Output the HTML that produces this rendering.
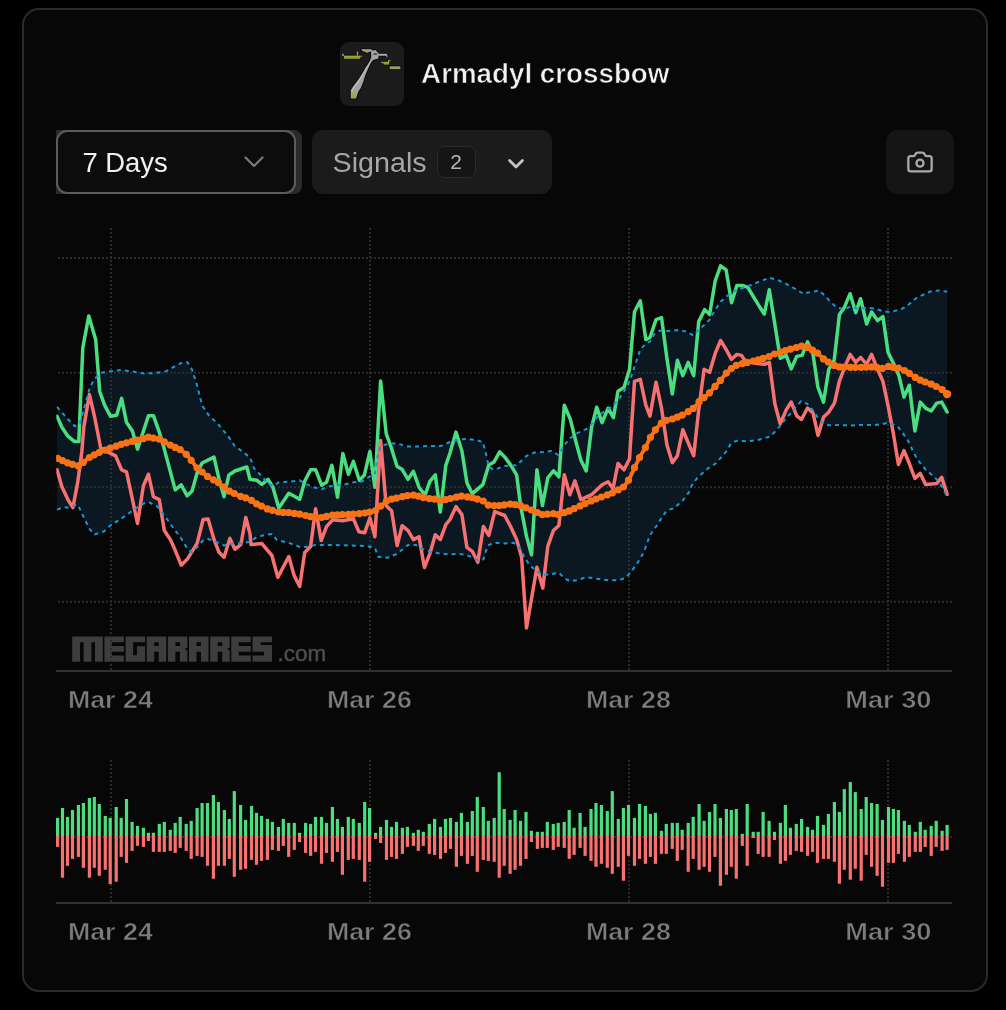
<!DOCTYPE html>
<html><head><meta charset="utf-8"><title>Armadyl crossbow</title>
<style>
html,body{margin:0;padding:0;background:#000;}
body{width:1006px;height:1010px;position:relative;overflow:hidden;font-family:"Liberation Sans", sans-serif;}
.card{position:absolute;left:22px;top:8px;width:962px;height:980px;border:2px solid #2a2a2a;border-radius:17px;background:#070707;}
.chart{position:absolute;left:0;top:0;will-change:transform;}
.iconbox{position:absolute;left:340px;top:42px;width:64px;height:64px;border-radius:9px;background:#1b1b1b;overflow:hidden;}
.xbow{position:absolute;left:0;top:0;}
.selwrap{position:absolute;left:56px;top:130px;width:246px;height:64px;background:#2a2a2a;border-radius:0 8px 8px 0;}
.sel{position:absolute;left:0;top:0;width:236px;height:60px;border:2px solid #5c5c5c;border-radius:11px;background:#0c0c0c;}
.sig{position:absolute;left:312px;top:130px;width:240px;height:64px;border-radius:11px;background:#1b1b1b;}
.badge{position:absolute;left:124.5px;top:16px;width:37px;height:29.5px;border:1.5px solid #2a2a2a;border-radius:7px;background:#151515;}
.cam{position:absolute;left:886px;top:130px;width:68px;height:64px;border-radius:12px;background:#151515;}
svg.ic{position:absolute;overflow:visible;}
</style></head><body>
<div class="card"></div>
<div class="iconbox"><svg class="xbow" width="64" height="64" viewBox="0 0 64 64">
<g style="filter:blur(0.45px)">
<g stroke="#070707" stroke-width="1.8" stroke-linejoin="round" fill="#050505">
<path d="M10.8,56.4 L10.8,48 L13,44.5 L15.9,40.7 L18.7,36.9 L21.6,32.6 L23.8,28.8 L25.6,25.6 L28.2,21.8 L30.1,18.6 L31.3,14.6 L31,8.8 L35.5,8 L38.6,11.5 L38.4,16.4 L33.1,18 L31,20.6 L29.1,24.4 L27.2,28.8 L25.3,33.2 L23.4,39.6 L20.8,46 L18.2,49.8 L16,56.4 Z"/>
<path d="M21,7.3 L31.5,7.3 L32,9.6 L23,9.6 Z"/>
<rect x="38.2" y="11.8" width="9.2" height="1.9"/>
<rect x="3.8" y="13.7" width="16.6" height="3.2"/>
<rect x="43.3" y="19.7" width="5.8" height="2.9"/>
<rect x="49.6" y="24.5" width="10.8" height="2.6"/>
</g>
<path d="M10.8,56.4 L10.8,48 L13,44.5 L15.9,40.7 L18.7,36.9 L21.6,32.6 L23.8,28.8 L25.6,25.6 L28.2,21.8 L30.1,18.6 L31.3,14.6 L31,8.8 L35.5,8 L38.6,11.5 L38.4,16.4 L33.1,18 L31,20.6 L29.1,24.4 L27.2,28.8 L25.3,33.2 L23.4,39.6 L20.8,46 L18.2,49.8 L16,56.4 Z" fill="#a2a2a2"/>
<path d="M11.4,50 L11.4,48.2 L16.4,41.2 L22.2,33 L26,26 L30.4,19 L31.2,19 L26.8,26.4 L23,33.8 L17.4,42 L12.6,48.6 L12.4,50 Z" fill="#bdbdbd"/>
<rect x="12.1" y="50.3" width="3.8" height="5.8" fill="#9cab36"/>
<rect x="33.7" y="11.4" width="3.2" height="1.4" fill="#2a2a2a"/>
<path d="M21,7.3 L31.5,7.3 L32,9.6 L23,9.6 Z" fill="#ababab"/>
<path d="M24.2,9 L27,7.8 L29.9,9.4 L27,10.9 Z" fill="#9cab36"/>
<path d="M38.2,11.8 L46.4,11.8 L47.4,12.7 L47.4,15.3 L46.4,15.3 L46.4,13.7 L38.2,13.7 Z" fill="#aaaaaa"/>
<rect x="2.2" y="11.8" width="1.6" height="2.2" fill="#9a9a9a"/>
<rect x="3.8" y="13.7" width="16.6" height="3.2" fill="#93a234"/>
<rect x="3.8" y="13.3" width="16.6" height="0.7" fill="#7a3327"/>
<rect x="4.2" y="16.7" width="16" height="0.6" fill="#7a3327"/>
<rect x="16.9" y="9.5" width="1.2" height="4.2" fill="#9cab36"/>
<rect x="20.4" y="13.7" width="1.8" height="1.2" fill="#8a8a8a"/>
<rect x="41.4" y="19.8" width="2" height="1.3" fill="#a0a0a0"/>
<rect x="43.3" y="19.7" width="5.8" height="2.9" fill="#93a234"/>
<rect x="48" y="18.1" width="1.3" height="3" fill="#9cab36"/>
<rect x="49.3" y="18" width="1.4" height="1" fill="#8a8a8a"/>
<rect x="49.6" y="24.3" width="10.8" height="2.9" fill="#8d8d8d"/>
<rect x="50" y="24.9" width="9.8" height="1.8" fill="#9cab36"/>
</g>
</svg></div>
<div class="selwrap"><div class="sel">
<svg class="ic" style="left:186.2px;top:23.9px" width="20" height="12" viewBox="0 0 20 12"><path d="M1.5,1.5 L10,10 L18.5,1.5" fill="none" stroke="#7a7a7a" stroke-width="2.2" stroke-linecap="round" stroke-linejoin="round"/></svg>
</div></div>
<div class="sig"><div class="badge"></div>
<svg class="ic" style="left:196px;top:28.5px" width="16" height="10" viewBox="0 0 16 10"><path d="M1.6,1.6 L8,8 L14.4,1.6" fill="none" stroke="#c4c4c4" stroke-width="2.8" stroke-linecap="round" stroke-linejoin="round"/></svg>
</div>
<div class="cam">
<svg class="ic" style="left:20px;top:18px" width="28" height="28" viewBox="0 0 24 24" fill="none" stroke="#a8a8a8" stroke-width="2" stroke-linecap="round" stroke-linejoin="round"><path d="M13.997 4a2 2 0 0 1 1.76 1.05l.486.9A2 2 0 0 0 18.003 7H20a2 2 0 0 1 2 2v9a2 2 0 0 1-2 2H4a2 2 0 0 1-2-2V9a2 2 0 0 1 2-2h1.997a2 2 0 0 0 1.759-1.048l.489-.904A2 2 0 0 1 10.004 4z"/><circle cx="12" cy="13" r="3"/></svg>
</div>
<svg class="chart" width="1006" height="1010" viewBox="0 0 1006 1010"><defs><clipPath id="plot"><rect x="56.3" y="228" width="896" height="442"/></clipPath></defs><path d="M57.0,406.8 L67.9,419.3 L74.9,426.2 L79.8,423.3 L84.8,405.4 L89.8,387.5 L94.7,378.5 L101.7,372.6 L111.6,371.2 L121.6,370.0 L133.5,371.6 L144.4,373.6 L155.4,373.0 L165.3,371.6 L174.3,366.6 L182.2,362.6 L187.2,362.0 L192.1,369.6 L197.1,385.5 L202.1,405.4 L208.1,414.3 L219.0,425.2 L228.9,437.2 L234.9,446.1 L241.8,451.1 L250.0,457.4 L254.0,468.3 L261.9,476.3 L267.9,483.3 L272.9,486.2 L278.8,482.3 L288.8,481.7 L299.7,480.3 L306.7,484.3 L313.6,487.2 L321.6,489.2 L329.5,486.2 L337.5,484.9 L343.4,484.9 L353.4,482.3 L361.3,481.7 L369.9,476.3 L374.9,473.3 L378.2,453.4 L381.2,445.5 L391.6,443.5 L397.1,443.5 L408.1,446.5 L419.0,446.5 L429.9,445.9 L440.9,445.9 L450.0,442.0 L459.9,439.4 L467.9,439.0 L475.8,440.0 L482.8,442.0 L485.8,453.0 L488.8,466.9 L494.1,469.9 L504.7,465.9 L516.6,465.3 L526.5,455.9 L534.5,452.6 L543.4,452.0 L551.4,451.0 L558.3,455.0 L564.3,445.0 L570.3,438.1 L577.2,433.1 L586.2,429.1 L591.6,424.1 L597.1,417.2 L603.1,412.2 L611.0,407.2 L618.0,400.3 L624.0,391.3 L629.5,381.4 L634.9,365.5 L640.3,349.6 L645.8,343.6 L650.0,341.5 L654.0,334.5 L659.9,330.5 L666.9,331.1 L677.8,330.1 L684.8,331.1 L693.7,335.5 L698.7,329.5 L704.7,324.6 L709.6,319.6 L715.2,309.6 L720.6,301.7 L726.1,296.7 L731.5,292.7 L736.9,289.8 L747.8,286.2 L758.9,281.8 L769.3,277.8 L777.2,279.8 L786.2,283.8 L796.7,289.8 L804.1,294.1 L807.0,292.7 L812.9,291.7 L818.9,290.4 L824.9,295.7 L830.8,302.1 L836.8,307.7 L844.7,309.2 L850.1,306.7 L857.7,308.6 L866.6,307.7 L874.6,308.6 L882.9,311.2 L889.5,312.0 L898.8,310.0 L906.4,306.7 L912.3,301.3 L917.3,297.3 L925.6,293.7 L931.2,291.2 L939.2,290.4 L947.1,291.7 L947.1,496.3 L941.7,486.4 L936.8,479.4 L925.6,469.5 L917.3,459.5 L912.3,449.6 L907.4,439.6 L902.4,432.7 L897.4,426.1 L888.1,422.7 L882.9,424.0 L874.6,425.0 L860.6,425.0 L850.1,425.5 L839.4,425.0 L828.8,425.3 L823.5,423.4 L817.9,418.0 L812.9,410.0 L807.5,404.1 L801.1,401.1 L796.7,406.1 L791.2,413.0 L786.2,418.0 L780.2,425.8 L774.9,431.8 L769.3,436.8 L758.9,439.8 L747.8,441.2 L736.9,440.8 L731.5,442.7 L726.1,451.7 L715.6,463.6 L707.7,468.6 L698.7,476.5 L692.7,483.5 L688.8,492.4 L682.8,500.4 L673.9,508.3 L666.9,510.3 L661.9,517.3 L657.0,525.2 L650.0,535.2 L643.8,552.3 L637.9,562.3 L630.9,572.2 L625.0,578.2 L618.0,580.2 L608.1,580.2 L597.1,578.8 L586.2,577.2 L577.2,580.2 L569.9,581.2 L564.3,578.2 L558.9,572.8 L551.4,574.2 L542.8,575.2 L536.9,571.2 L529.5,565.2 L524.6,557.3 L518.6,546.4 L513.6,542.8 L504.7,543.4 L494.1,542.8 L487.8,545.4 L483.4,559.3 L477.8,560.3 L472.3,557.3 L466.9,555.3 L459.9,553.9 L450.0,554.3 L440.9,553.8 L429.9,551.8 L422.0,548.9 L416.0,544.9 L408.1,544.9 L397.1,553.8 L387.2,557.8 L378.2,556.8 L374.9,547.9 L371.3,546.9 L364.3,545.9 L343.4,545.3 L326.5,544.9 L315.6,544.9 L307.7,546.9 L299.7,546.9 L288.8,542.9 L276.8,539.9 L271.9,534.0 L264.9,535.0 L257.0,536.9 L250.0,541.9 L240.9,543.4 L232.9,543.4 L224.0,545.4 L215.0,541.4 L208.1,539.0 L203.1,540.4 L197.1,547.4 L191.2,552.3 L187.2,548.3 L181.2,538.4 L175.2,530.5 L164.3,515.5 L157.4,506.6 L148.4,502.0 L143.4,503.6 L132.5,510.6 L121.6,518.5 L111.6,524.5 L103.7,531.5 L94.7,534.4 L89.8,529.5 L83.8,517.5 L77.8,504.6 L67.9,507.6 L62.9,507.6 L57.0,509.6Z" fill="#0b1822"/><g fill="#3d3d3d" transform="translate(72.2,636.4)"><path d="M0,0 h30.6 v25.3 h-7.8 v-19.4 h-3.6 v19.4 h-7.8 v-19.4 h-3.6 v19.4 h-7.8 Z"/><path d="M32.2,0 h19.5 v5.9 h-12.0 v3.6 h12.0 v5.9 h-12.0 v3.6 h12.0 v6.3 h-19.5 Z"/><path d="M53.4,0 h19.5 v5.9 h-12.0 v13.0 h3.8 v-9.100000000000001 h8.2 v15.5 h-19.5 Z"/><path d="M74.5,0 h19.5 v25.3 h-7.5 v-9.9 h-4.5 v9.9 h-7.5 Z M82.0,5.9 v3.6 h4.5 v-3.6 Z" fill-rule="evenodd"/><path d="M95.7,0 h19.5 v11 l-2.6,1.7 l2.6,1.7 v10.9 h-7.5 v-9.9 h-4.5 v9.9 h-7.5 Z M103.2,5.9 v3.6 h4.5 v-3.6 Z" fill-rule="evenodd"/><path d="M116.8,0 h19.5 v25.3 h-7.5 v-9.9 h-4.5 v9.9 h-7.5 Z M124.3,5.9 v3.6 h4.5 v-3.6 Z" fill-rule="evenodd"/><path d="M138.0,0 h19.5 v11 l-2.6,1.7 l2.6,1.7 v10.9 h-7.5 v-9.9 h-4.5 v9.9 h-7.5 Z M145.5,5.9 v3.6 h4.5 v-3.6 Z" fill-rule="evenodd"/><path d="M159.1,0 h19.5 v5.9 h-12.0 v3.6 h12.0 v5.9 h-12.0 v3.6 h12.0 v6.3 h-19.5 Z"/><path d="M180.3,0 h19.5 v5.9 h-11.3 v2.6 h11.3 v16.8 h-19.5 v-6.3 h11.5 v-3.6 h-11.5 Z"/></g><text x="277.5" y="661" font-family='"Liberation Sans", sans-serif' font-size="22.5" fill="#4d4d4d" stroke="#4d4d4d" stroke-width="0.5">.com</text><line x1="58" y1="258" x2="952" y2="258" stroke="#2c2c2c" stroke-width="2" stroke-dasharray="2 2"/><line x1="58" y1="372.7" x2="952" y2="372.7" stroke="#2c2c2c" stroke-width="2" stroke-dasharray="2 2"/><line x1="58" y1="487.2" x2="952" y2="487.2" stroke="#2c2c2c" stroke-width="2" stroke-dasharray="2 2"/><line x1="58" y1="601.8" x2="952" y2="601.8" stroke="#2c2c2c" stroke-width="2" stroke-dasharray="2 2"/><line x1="111" y1="228" x2="111" y2="670" stroke="#2c2c2c" stroke-width="2" stroke-dasharray="2 2"/><line x1="111" y1="760" x2="111" y2="902" stroke="#2c2c2c" stroke-width="2" stroke-dasharray="2 2"/><line x1="370" y1="228" x2="370" y2="670" stroke="#2c2c2c" stroke-width="2" stroke-dasharray="2 2"/><line x1="370" y1="760" x2="370" y2="902" stroke="#2c2c2c" stroke-width="2" stroke-dasharray="2 2"/><line x1="629" y1="228" x2="629" y2="670" stroke="#2c2c2c" stroke-width="2" stroke-dasharray="2 2"/><line x1="629" y1="760" x2="629" y2="902" stroke="#2c2c2c" stroke-width="2" stroke-dasharray="2 2"/><line x1="888" y1="228" x2="888" y2="670" stroke="#2c2c2c" stroke-width="2" stroke-dasharray="2 2"/><line x1="888" y1="760" x2="888" y2="902" stroke="#2c2c2c" stroke-width="2" stroke-dasharray="2 2"/><g clip-path="url(#plot)"><path d="M57.0,416.3 L61.9,427.2 L67.9,436.2 L73.9,441.2 L78.8,441.6 L82.8,347.7 L88.8,315.9 L95.7,339.8 L99.7,391.5 L104.7,405.4 L110.6,416.3 L116.6,415.3 L121.6,398.4 L126.5,422.3 L132.5,431.2 L137.5,449.1 L143.4,431.2 L148.4,415.7 L153.4,415.7 L159.3,432.2 L164.3,449.1 L175.2,489.9 L181.2,484.9 L187.2,495.8 L192.1,490.9 L197.1,473.0 L202.1,463.0 L214.0,457.1 L219.0,478.9 L224.0,496.8 L228.9,475.0 L234.9,471.0 L246.8,467.0 L250.0,479.3 L257.0,480.3 L261.9,484.3 L267.9,479.3 L272.9,487.2 L278.8,508.1 L288.8,493.2 L299.7,499.2 L304.7,481.3 L310.6,469.7 L315.6,469.7 L321.6,485.2 L326.5,482.3 L331.9,465.4 L337.5,497.2 L342.8,453.4 L348.4,474.3 L353.4,461.4 L359.3,480.3 L364.3,475.3 L369.9,451.5 L374.9,487.2 L380.6,380.9 L386.2,433.6 L391.2,447.5 L397.1,466.4 L402.1,469.3 L408.1,479.3 L413.4,471.3 L419.0,487.2 L425.0,495.2 L429.9,481.3 L435.3,474.9 L440.3,512.1 L445.8,465.4 L450.0,453.0 L456.0,432.1 L461.9,451.0 L466.9,482.7 L472.3,493.7 L482.8,484.7 L488.8,464.9 L494.1,461.9 L499.7,451.9 L504.7,456.9 L510.6,464.9 L516.6,474.8 L520.6,505.6 L526.5,536.4 L531.5,554.9 L536.9,469.8 L542.4,505.6 L547.8,477.8 L553.4,470.8 L558.9,476.8 L564.3,405.2 L570.3,419.2 L575.2,439.0 L580.8,459.9 L586.2,470.9 L591.6,427.1 L596.7,407.2 L602.1,422.7 L608.1,408.2 L613.4,417.6 L618.0,391.3 L624.0,387.4 L629.5,369.5 L634.5,311.8 L640.3,300.9 L645.8,339.6 L650.0,337.5 L656.0,319.6 L661.5,317.6 L666.9,358.3 L672.3,394.1 L677.4,360.3 L682.8,375.6 L688.2,362.3 L693.7,375.6 L698.7,321.6 L704.7,309.6 L709.6,314.6 L715.2,280.8 L720.6,265.9 L726.1,269.9 L731.5,302.7 L736.9,285.4 L742.4,285.4 L747.8,287.4 L753.4,296.7 L758.9,305.7 L764.3,314.0 L769.3,289.8 L774.9,324.6 L780.2,358.3 L786.2,355.4 L791.2,368.9 L796.7,356.4 L802.1,355.4 L807.5,341.8 L812.9,353.4 L817.9,387.2 L823.5,402.1 L828.8,369.3 L834.2,360.3 L839.4,314.6 L844.7,306.7 L850.1,293.7 L855.7,312.6 L860.6,298.7 L866.6,324.0 L871.6,312.0 L877.5,320.6 L882.9,316.6 L888.1,352.4 L893.4,363.3 L898.8,375.2 L904.0,397.1 L909.3,385.2 L914.9,430.9 L920.3,402.1 L925.6,408.1 L931.2,411.0 L936.8,403.1 L941.7,402.1 L947.1,412.0" fill="none" stroke="#4ade80" stroke-width="3.5" stroke-linejoin="round" stroke-linecap="round"/><path d="M57.0,469.8 L61.9,486.7 L67.9,499.6 L72.9,507.6 L77.8,481.7 L81.8,451.9 L83.8,427.2 L89.4,394.4 L94.7,417.3 L100.7,448.0 L109.6,452.9 L115.6,455.9 L121.6,469.8 L126.5,471.8 L132.5,499.6 L137.5,523.5 L143.4,485.7 L148.4,474.2 L153.4,496.7 L159.3,499.6 L164.3,530.5 L170.3,539.4 L175.2,550.3 L181.2,565.2 L187.2,559.3 L197.1,543.4 L203.1,519.5 L208.1,519.1 L214.0,539.4 L219.0,552.3 L224.0,557.3 L229.9,538.4 L234.9,549.3 L240.9,544.4 L245.8,517.5 L250.0,533.7 L251.0,544.6 L261.9,543.6 L271.9,555.5 L277.8,577.4 L288.8,556.5 L294.1,575.4 L299.7,586.4 L304.7,552.6 L310.6,546.6 L315.6,508.8 L321.2,540.6 L326.5,526.7 L332.5,519.8 L342.8,520.8 L353.4,518.8 L358.9,531.7 L364.7,532.7 L369.9,517.8 L374.9,536.7 L380.6,440.5 L386.2,505.8 L391.6,510.8 L397.1,545.6 L402.1,525.7 L408.1,530.7 L413.4,539.6 L419.0,536.7 L424.4,567.5 L429.9,553.6 L435.3,534.7 L440.3,539.6 L445.8,524.7 L450.0,519.5 L456.0,506.6 L461.9,514.6 L466.9,547.4 L472.3,551.3 L477.8,562.3 L483.4,526.5 L488.8,535.4 L494.7,511.6 L504.7,515.5 L510.6,526.5 L516.6,539.4 L521.6,557.3 L526.5,627.9 L536.9,567.2 L542.8,588.1 L547.8,546.4 L553.4,530.5 L558.9,525.5 L564.3,474.8 L569.9,494.7 L574.9,480.8 L580.8,499.6 L591.6,494.7 L602.1,484.7 L608.1,481.7 L613.0,488.7 L618.0,463.5 L624.0,469.8 L629.5,458.9 L634.5,381.4 L640.3,379.4 L645.8,405.2 L650.0,416.0 L656.0,382.2 L661.5,408.0 L666.9,444.7 L672.3,462.6 L677.4,455.7 L682.8,429.8 L688.2,442.7 L693.7,455.7 L698.7,409.9 L704.1,369.3 L709.6,372.3 L715.2,353.4 L720.6,340.5 L726.1,349.4 L731.5,359.3 L736.9,354.4 L741.5,355.4 L745.4,361.3 L753.4,362.9 L764.3,364.3 L769.3,362.3 L774.9,404.0 L780.2,423.9 L786.2,409.9 L791.2,402.0 L796.7,415.9 L801.5,419.5 L807.5,408.0 L813.0,412.9 L818.0,435.4 L823.6,416.9 L828.9,411.9 L834.5,403.0 L839.4,381.2 L844.7,367.3 L850.1,354.4 L855.7,362.3 L860.6,357.4 L866.6,364.3 L871.6,354.4 L877.5,369.3 L882.9,381.2 L888.1,405.8 L893.4,433.7 L898.4,464.5 L904.0,450.6 L909.3,463.5 L914.9,478.4 L920.3,473.4 L925.6,484.4 L936.8,483.4 L941.7,477.4 L947.1,494.3" fill="none" stroke="#f87171" stroke-width="3.5" stroke-linejoin="round" stroke-linecap="round"/><path d="M57.0,406.8 L67.9,419.3 L74.9,426.2 L79.8,423.3 L84.8,405.4 L89.8,387.5 L94.7,378.5 L101.7,372.6 L111.6,371.2 L121.6,370.0 L133.5,371.6 L144.4,373.6 L155.4,373.0 L165.3,371.6 L174.3,366.6 L182.2,362.6 L187.2,362.0 L192.1,369.6 L197.1,385.5 L202.1,405.4 L208.1,414.3 L219.0,425.2 L228.9,437.2 L234.9,446.1 L241.8,451.1 L250.0,457.4 L254.0,468.3 L261.9,476.3 L267.9,483.3 L272.9,486.2 L278.8,482.3 L288.8,481.7 L299.7,480.3 L306.7,484.3 L313.6,487.2 L321.6,489.2 L329.5,486.2 L337.5,484.9 L343.4,484.9 L353.4,482.3 L361.3,481.7 L369.9,476.3 L374.9,473.3 L378.2,453.4 L381.2,445.5 L391.6,443.5 L397.1,443.5 L408.1,446.5 L419.0,446.5 L429.9,445.9 L440.9,445.9 L450.0,442.0 L459.9,439.4 L467.9,439.0 L475.8,440.0 L482.8,442.0 L485.8,453.0 L488.8,466.9 L494.1,469.9 L504.7,465.9 L516.6,465.3 L526.5,455.9 L534.5,452.6 L543.4,452.0 L551.4,451.0 L558.3,455.0 L564.3,445.0 L570.3,438.1 L577.2,433.1 L586.2,429.1 L591.6,424.1 L597.1,417.2 L603.1,412.2 L611.0,407.2 L618.0,400.3 L624.0,391.3 L629.5,381.4 L634.9,365.5 L640.3,349.6 L645.8,343.6 L650.0,341.5 L654.0,334.5 L659.9,330.5 L666.9,331.1 L677.8,330.1 L684.8,331.1 L693.7,335.5 L698.7,329.5 L704.7,324.6 L709.6,319.6 L715.2,309.6 L720.6,301.7 L726.1,296.7 L731.5,292.7 L736.9,289.8 L747.8,286.2 L758.9,281.8 L769.3,277.8 L777.2,279.8 L786.2,283.8 L796.7,289.8 L804.1,294.1 L807.0,292.7 L812.9,291.7 L818.9,290.4 L824.9,295.7 L830.8,302.1 L836.8,307.7 L844.7,309.2 L850.1,306.7 L857.7,308.6 L866.6,307.7 L874.6,308.6 L882.9,311.2 L889.5,312.0 L898.8,310.0 L906.4,306.7 L912.3,301.3 L917.3,297.3 L925.6,293.7 L931.2,291.2 L939.2,290.4 L947.1,291.7" fill="none" stroke="#1797d4" stroke-width="2" stroke-dasharray="4 4"/><path d="M57.0,509.6 L62.9,507.6 L67.9,507.6 L77.8,504.6 L83.8,517.5 L89.8,529.5 L94.7,534.4 L103.7,531.5 L111.6,524.5 L121.6,518.5 L132.5,510.6 L143.4,503.6 L148.4,502.0 L157.4,506.6 L164.3,515.5 L175.2,530.5 L181.2,538.4 L187.2,548.3 L191.2,552.3 L197.1,547.4 L203.1,540.4 L208.1,539.0 L215.0,541.4 L224.0,545.4 L232.9,543.4 L240.9,543.4 L250.0,541.9 L257.0,536.9 L264.9,535.0 L271.9,534.0 L276.8,539.9 L288.8,542.9 L299.7,546.9 L307.7,546.9 L315.6,544.9 L326.5,544.9 L343.4,545.3 L364.3,545.9 L371.3,546.9 L374.9,547.9 L378.2,556.8 L387.2,557.8 L397.1,553.8 L408.1,544.9 L416.0,544.9 L422.0,548.9 L429.9,551.8 L440.9,553.8 L450.0,554.3 L459.9,553.9 L466.9,555.3 L472.3,557.3 L477.8,560.3 L483.4,559.3 L487.8,545.4 L494.1,542.8 L504.7,543.4 L513.6,542.8 L518.6,546.4 L524.6,557.3 L529.5,565.2 L536.9,571.2 L542.8,575.2 L551.4,574.2 L558.9,572.8 L564.3,578.2 L569.9,581.2 L577.2,580.2 L586.2,577.2 L597.1,578.8 L608.1,580.2 L618.0,580.2 L625.0,578.2 L630.9,572.2 L637.9,562.3 L643.8,552.3 L650.0,535.2 L657.0,525.2 L661.9,517.3 L666.9,510.3 L673.9,508.3 L682.8,500.4 L688.8,492.4 L692.7,483.5 L698.7,476.5 L707.7,468.6 L715.6,463.6 L726.1,451.7 L731.5,442.7 L736.9,440.8 L747.8,441.2 L758.9,439.8 L769.3,436.8 L774.9,431.8 L780.2,425.8 L786.2,418.0 L791.2,413.0 L796.7,406.1 L801.1,401.1 L807.5,404.1 L812.9,410.0 L817.9,418.0 L823.5,423.4 L828.8,425.3 L839.4,425.0 L850.1,425.5 L860.6,425.0 L874.6,425.0 L882.9,424.0 L888.1,422.7 L897.4,426.1 L902.4,432.7 L907.4,439.6 L912.3,449.6 L917.3,459.5 L925.6,469.5 L936.8,479.4 L941.7,486.4 L947.1,496.3" fill="none" stroke="#1797d4" stroke-width="2" stroke-dasharray="4 4"/><path d="M57.0,458.1 L67.9,463.0 L78.8,466.0 L89.8,457.1 L99.7,452.1 L110.6,448.1 L121.6,444.1 L132.5,441.2 L143.4,438.6 L148.4,437.2 L159.3,439.2 L170.3,445.1 L181.2,450.1 L187.2,455.1 L197.1,468.0 L208.1,476.9 L219.0,482.9 L228.9,490.9 L238.9,495.8 L250.0,499.2 L257.0,504.1 L267.9,509.1 L278.8,512.1 L288.8,512.7 L299.7,514.1 L310.6,516.7 L321.6,517.5 L332.5,515.1 L343.4,514.7 L353.4,514.1 L364.3,513.1 L374.9,511.1 L380.6,506.1 L386.2,501.2 L391.6,499.2 L402.1,496.8 L408.1,495.6 L413.4,495.2 L419.0,496.2 L425.0,498.2 L435.3,499.2 L440.3,500.8 L450.0,498.6 L461.9,496.1 L472.3,497.7 L482.8,500.6 L488.8,505.6 L499.7,505.6 L510.6,504.0 L520.6,505.6 L531.5,510.0 L542.4,514.6 L553.4,513.6 L558.9,514.6 L569.9,510.6 L580.8,505.6 L591.6,500.6 L602.1,496.7 L613.0,492.7 L624.0,486.7 L629.5,478.8 L634.9,466.8 L640.3,455.9 L645.8,447.0 L650.0,437.9 L656.0,428.9 L661.5,423.0 L666.9,420.0 L672.3,419.0 L682.8,415.0 L693.7,408.1 L698.7,402.1 L704.7,397.1 L709.6,392.7 L715.2,386.2 L720.6,380.2 L726.1,373.3 L731.5,368.3 L736.9,364.9 L747.8,362.3 L758.9,359.7 L769.3,356.4 L774.9,353.8 L786.2,350.4 L796.7,347.4 L802.1,346.0 L807.5,347.4 L812.9,350.4 L817.9,353.4 L823.5,358.9 L828.8,362.3 L834.2,365.3 L839.4,366.9 L850.1,367.3 L860.6,367.3 L871.6,366.9 L882.9,368.3 L888.1,366.3 L898.8,368.3 L904.0,370.3 L909.3,373.3 L914.9,377.2 L920.3,380.2 L931.2,384.2 L936.8,386.8 L941.7,389.2 L947.1,394.1" fill="none" stroke="#f97316" stroke-width="3.8" stroke-linejoin="round" stroke-linecap="round"/><g fill="#f97316"><circle cx="57.6" cy="458.3" r="3.6"/><circle cx="62.5" cy="460.6" r="3.6"/><circle cx="67.5" cy="462.8" r="3.6"/><circle cx="72.5" cy="464.3" r="3.6"/><circle cx="78.4" cy="465.9" r="3.6"/><circle cx="83.4" cy="462.3" r="3.6"/><circle cx="89.4" cy="457.5" r="3.6"/><circle cx="94.3" cy="454.8" r="3.6"/><circle cx="99.3" cy="452.3" r="3.6"/><circle cx="105.3" cy="450.1" r="3.6"/><circle cx="110.2" cy="448.2" r="3.6"/><circle cx="116.2" cy="446.1" r="3.6"/><circle cx="121.2" cy="444.3" r="3.6"/><circle cx="126.5" cy="442.8" r="3.6"/><circle cx="132.1" cy="441.3" r="3.6"/><circle cx="137.5" cy="440.0" r="3.6"/><circle cx="143.4" cy="438.6" r="3.6"/><circle cx="148.4" cy="437.2" r="3.6"/><circle cx="153.4" cy="438.1" r="3.6"/><circle cx="159.3" cy="439.2" r="3.6"/><circle cx="164.3" cy="441.9" r="3.6"/><circle cx="170.3" cy="445.1" r="3.6"/><circle cx="175.2" cy="447.4" r="3.6"/><circle cx="180.2" cy="449.6" r="3.6"/><circle cx="186.2" cy="454.3" r="3.6"/><circle cx="191.2" cy="460.3" r="3.6"/><circle cx="197.1" cy="468.0" r="3.6"/><circle cx="202.1" cy="472.0" r="3.6"/><circle cx="207.5" cy="476.4" r="3.6"/><circle cx="213.4" cy="479.8" r="3.6"/><circle cx="218.4" cy="482.6" r="3.6"/><circle cx="224.4" cy="487.2" r="3.6"/><circle cx="229.3" cy="491.1" r="3.6"/><circle cx="234.3" cy="493.5" r="3.6"/><circle cx="240.6" cy="496.3" r="3.6"/><circle cx="245.6" cy="497.8" r="3.6"/><circle cx="251.5" cy="500.3" r="3.6"/><circle cx="256.5" cy="503.8" r="3.6"/><circle cx="261.5" cy="506.2" r="3.6"/><circle cx="267.4" cy="508.9" r="3.6"/><circle cx="272.4" cy="510.3" r="3.6"/><circle cx="278.4" cy="512.0" r="3.6"/><circle cx="283.3" cy="512.4" r="3.6"/><circle cx="288.7" cy="512.7" r="3.6"/><circle cx="294.3" cy="513.4" r="3.6"/><circle cx="299.6" cy="514.1" r="3.6"/><circle cx="305.6" cy="515.5" r="3.6"/><circle cx="310.6" cy="516.7" r="3.6"/><circle cx="315.5" cy="517.1" r="3.6"/><circle cx="321.5" cy="517.5" r="3.6"/><circle cx="326.5" cy="516.4" r="3.6"/><circle cx="332.4" cy="515.1" r="3.6"/><circle cx="337.4" cy="514.9" r="3.6"/><circle cx="342.4" cy="514.7" r="3.6"/><circle cx="348.3" cy="514.4" r="3.6"/><circle cx="353.3" cy="514.1" r="3.6"/><circle cx="359.3" cy="513.6" r="3.6"/><circle cx="364.7" cy="513.0" r="3.6"/><circle cx="369.6" cy="512.1" r="3.6"/><circle cx="375.6" cy="510.5" r="3.6"/><circle cx="380.6" cy="506.1" r="3.6"/><circle cx="386.5" cy="501.1" r="3.6"/><circle cx="391.5" cy="499.2" r="3.6"/><circle cx="396.5" cy="498.1" r="3.6"/><circle cx="402.4" cy="496.7" r="3.6"/><circle cx="407.4" cy="495.7" r="3.6"/><circle cx="413.4" cy="495.2" r="3.6"/><circle cx="418.3" cy="496.1" r="3.6"/><circle cx="423.3" cy="497.6" r="3.6"/><circle cx="429.3" cy="498.6" r="3.6"/><circle cx="434.6" cy="499.1" r="3.6"/><circle cx="440.5" cy="500.7" r="3.6"/><circle cx="445.5" cy="499.6" r="3.6"/><circle cx="450.5" cy="498.5" r="3.6"/><circle cx="456.4" cy="497.2" r="3.6"/><circle cx="461.4" cy="496.2" r="3.6"/><circle cx="467.4" cy="496.9" r="3.6"/><circle cx="472.3" cy="497.7" r="3.6"/><circle cx="477.3" cy="499.1" r="3.6"/><circle cx="483.3" cy="501.0" r="3.6"/><circle cx="488.3" cy="505.1" r="3.6"/><circle cx="494.2" cy="505.6" r="3.6"/><circle cx="499.2" cy="505.6" r="3.6"/><circle cx="504.2" cy="504.9" r="3.6"/><circle cx="510.1" cy="504.1" r="3.6"/><circle cx="515.1" cy="504.7" r="3.6"/><circle cx="520.5" cy="505.6" r="3.6"/><circle cx="526.0" cy="507.8" r="3.6"/><circle cx="531.4" cy="510.0" r="3.6"/><circle cx="537.4" cy="512.5" r="3.6"/><circle cx="542.3" cy="514.6" r="3.6"/><circle cx="547.3" cy="514.2" r="3.6"/><circle cx="553.3" cy="513.6" r="3.6"/><circle cx="558.2" cy="514.5" r="3.6"/><circle cx="564.2" cy="512.7" r="3.6"/><circle cx="569.2" cy="510.9" r="3.6"/><circle cx="574.1" cy="508.7" r="3.6"/><circle cx="580.1" cy="505.9" r="3.6"/><circle cx="585.1" cy="503.6" r="3.6"/><circle cx="591.0" cy="500.9" r="3.6"/><circle cx="596.0" cy="499.0" r="3.6"/><circle cx="601.4" cy="497.0" r="3.6"/><circle cx="607.3" cy="494.8" r="3.6"/><circle cx="612.3" cy="493.0" r="3.6"/><circle cx="618.3" cy="489.8" r="3.6"/><circle cx="623.4" cy="487.0" r="3.6"/><circle cx="628.5" cy="480.2" r="3.6"/><circle cx="634.5" cy="467.7" r="3.6"/><circle cx="639.5" cy="457.5" r="3.6"/><circle cx="645.4" cy="447.6" r="3.6"/><circle cx="650.4" cy="437.3" r="3.6"/><circle cx="655.4" cy="429.8" r="3.6"/><circle cx="661.4" cy="423.2" r="3.6"/><circle cx="666.3" cy="420.3" r="3.6"/><circle cx="672.3" cy="419.0" r="3.6"/><circle cx="677.3" cy="417.1" r="3.6"/><circle cx="682.2" cy="415.2" r="3.6"/><circle cx="688.2" cy="411.6" r="3.6"/><circle cx="693.2" cy="408.4" r="3.6"/><circle cx="699.1" cy="401.7" r="3.6"/><circle cx="704.1" cy="397.6" r="3.6"/><circle cx="709.5" cy="392.8" r="3.6"/><circle cx="715.0" cy="386.4" r="3.6"/><circle cx="720.4" cy="380.4" r="3.6"/><circle cx="726.4" cy="373.1" r="3.6"/><circle cx="731.3" cy="368.5" r="3.6"/><circle cx="736.3" cy="365.3" r="3.6"/><circle cx="742.3" cy="363.6" r="3.6"/><circle cx="747.2" cy="362.4" r="3.6"/><circle cx="753.2" cy="361.0" r="3.6"/><circle cx="758.2" cy="359.9" r="3.6"/><circle cx="763.1" cy="358.4" r="3.6"/><circle cx="769.1" cy="356.5" r="3.6"/><circle cx="774.5" cy="354.0" r="3.6"/><circle cx="780.4" cy="352.1" r="3.6"/><circle cx="785.4" cy="350.6" r="3.6"/><circle cx="790.4" cy="349.2" r="3.6"/><circle cx="796.3" cy="347.5" r="3.6"/><circle cx="801.6" cy="346.1" r="3.6"/><circle cx="807.6" cy="347.4" r="3.6"/><circle cx="812.5" cy="350.2" r="3.6"/><circle cx="817.5" cy="353.2" r="3.6"/><circle cx="823.5" cy="358.9" r="3.6"/><circle cx="828.4" cy="362.1" r="3.6"/><circle cx="834.4" cy="365.4" r="3.6"/><circle cx="839.4" cy="366.9" r="3.6"/><circle cx="844.3" cy="367.1" r="3.6"/><circle cx="850.3" cy="367.3" r="3.6"/><circle cx="855.3" cy="367.3" r="3.6"/><circle cx="861.2" cy="367.3" r="3.6"/><circle cx="866.2" cy="367.1" r="3.6"/><circle cx="871.6" cy="366.9" r="3.6"/><circle cx="877.1" cy="367.6" r="3.6"/><circle cx="882.5" cy="368.3" r="3.6"/><circle cx="888.5" cy="366.4" r="3.6"/><circle cx="893.4" cy="367.3" r="3.6"/><circle cx="898.4" cy="368.2" r="3.6"/><circle cx="904.4" cy="370.5" r="3.6"/><circle cx="909.3" cy="373.3" r="3.6"/><circle cx="915.3" cy="377.4" r="3.6"/><circle cx="920.3" cy="380.2" r="3.6"/><circle cx="925.2" cy="382.0" r="3.6"/><circle cx="931.2" cy="384.2" r="3.6"/><circle cx="936.2" cy="386.5" r="3.6"/><circle cx="942.1" cy="389.6" r="3.6"/><circle cx="947.1" cy="394.1" r="3.6"/></g></g><circle cx="947.1" cy="394.1" r="4.2" fill="#f97316"/><rect x="56" y="670" width="896" height="2" fill="#303030"/><rect x="56" y="902" width="896" height="2" fill="#303030"/><line x1="58" y1="837" x2="952" y2="837" stroke="#2c2c2c" stroke-width="2" stroke-dasharray="2 2"/><rect x="56.0" y="817.9" width="3.2" height="18.1" fill="#4ade80"/><rect x="56.0" y="836" width="3.2" height="10.9" fill="#f87171"/><rect x="60.9" y="808.0" width="3.2" height="28.0" fill="#4ade80"/><rect x="60.9" y="836" width="3.2" height="41.7" fill="#f87171"/><rect x="65.9" y="816.9" width="3.2" height="19.1" fill="#4ade80"/><rect x="65.9" y="836" width="3.2" height="29.8" fill="#f87171"/><rect x="70.9" y="810.0" width="3.2" height="26.0" fill="#4ade80"/><rect x="70.9" y="836" width="3.2" height="22.9" fill="#f87171"/><rect x="76.8" y="805.0" width="3.2" height="31.0" fill="#4ade80"/><rect x="76.8" y="836" width="3.2" height="20.9" fill="#f87171"/><rect x="81.8" y="803.0" width="3.2" height="33.0" fill="#4ade80"/><rect x="81.8" y="836" width="3.2" height="31.8" fill="#f87171"/><rect x="87.8" y="798.0" width="3.2" height="38.0" fill="#4ade80"/><rect x="87.8" y="836" width="3.2" height="41.7" fill="#f87171"/><rect x="92.7" y="797.0" width="3.2" height="39.0" fill="#4ade80"/><rect x="92.7" y="836" width="3.2" height="31.8" fill="#f87171"/><rect x="97.7" y="804.0" width="3.2" height="32.0" fill="#4ade80"/><rect x="97.7" y="836" width="3.2" height="39.8" fill="#f87171"/><rect x="103.7" y="815.9" width="3.2" height="20.1" fill="#4ade80"/><rect x="103.7" y="836" width="3.2" height="33.8" fill="#f87171"/><rect x="108.6" y="817.9" width="3.2" height="18.1" fill="#4ade80"/><rect x="108.6" y="836" width="3.2" height="48.1" fill="#f87171"/><rect x="114.6" y="807.0" width="3.2" height="29.0" fill="#4ade80"/><rect x="114.6" y="836" width="3.2" height="45.7" fill="#f87171"/><rect x="119.6" y="817.9" width="3.2" height="18.1" fill="#4ade80"/><rect x="119.6" y="836" width="3.2" height="20.9" fill="#f87171"/><rect x="124.9" y="799.0" width="3.2" height="37.0" fill="#4ade80"/><rect x="124.9" y="836" width="3.2" height="26.8" fill="#f87171"/><rect x="130.5" y="821.9" width="3.2" height="14.1" fill="#4ade80"/><rect x="130.5" y="836" width="3.2" height="14.9" fill="#f87171"/><rect x="135.9" y="825.9" width="3.2" height="10.1" fill="#4ade80"/><rect x="135.9" y="836" width="3.2" height="9.9" fill="#f87171"/><rect x="141.8" y="827.8" width="3.2" height="8.2" fill="#4ade80"/><rect x="141.8" y="836" width="3.2" height="10.9" fill="#f87171"/><rect x="146.8" y="832.8" width="3.2" height="3.2" fill="#4ade80"/><rect x="146.8" y="836" width="3.2" height="5.0" fill="#f87171"/><rect x="151.8" y="832.8" width="3.2" height="3.2" fill="#4ade80"/><rect x="151.8" y="836" width="3.2" height="15.9" fill="#f87171"/><rect x="157.7" y="823.9" width="3.2" height="12.1" fill="#4ade80"/><rect x="157.7" y="836" width="3.2" height="15.9" fill="#f87171"/><rect x="162.7" y="821.9" width="3.2" height="14.1" fill="#4ade80"/><rect x="162.7" y="836" width="3.2" height="15.9" fill="#f87171"/><rect x="168.7" y="829.8" width="3.2" height="6.2" fill="#4ade80"/><rect x="168.7" y="836" width="3.2" height="14.9" fill="#f87171"/><rect x="173.6" y="822.9" width="3.2" height="13.1" fill="#4ade80"/><rect x="173.6" y="836" width="3.2" height="16.9" fill="#f87171"/><rect x="178.6" y="816.9" width="3.2" height="19.1" fill="#4ade80"/><rect x="178.6" y="836" width="3.2" height="11.9" fill="#f87171"/><rect x="184.6" y="823.9" width="3.2" height="12.1" fill="#4ade80"/><rect x="184.6" y="836" width="3.2" height="14.9" fill="#f87171"/><rect x="189.6" y="820.9" width="3.2" height="15.1" fill="#4ade80"/><rect x="189.6" y="836" width="3.2" height="22.9" fill="#f87171"/><rect x="195.5" y="808.0" width="3.2" height="28.0" fill="#4ade80"/><rect x="195.5" y="836" width="3.2" height="19.9" fill="#f87171"/><rect x="200.5" y="803.0" width="3.2" height="33.0" fill="#4ade80"/><rect x="200.5" y="836" width="3.2" height="20.9" fill="#f87171"/><rect x="205.9" y="803.0" width="3.2" height="33.0" fill="#4ade80"/><rect x="205.9" y="836" width="3.2" height="29.8" fill="#f87171"/><rect x="211.8" y="795.0" width="3.2" height="41.0" fill="#4ade80"/><rect x="211.8" y="836" width="3.2" height="42.7" fill="#f87171"/><rect x="216.8" y="802.0" width="3.2" height="34.0" fill="#4ade80"/><rect x="216.8" y="836" width="3.2" height="29.8" fill="#f87171"/><rect x="222.8" y="810.0" width="3.2" height="26.0" fill="#4ade80"/><rect x="222.8" y="836" width="3.2" height="29.8" fill="#f87171"/><rect x="227.7" y="818.9" width="3.2" height="17.1" fill="#4ade80"/><rect x="227.7" y="836" width="3.2" height="22.9" fill="#f87171"/><rect x="232.7" y="791.1" width="3.2" height="44.9" fill="#4ade80"/><rect x="232.7" y="836" width="3.2" height="40.8" fill="#f87171"/><rect x="239.0" y="805.0" width="3.2" height="31.0" fill="#4ade80"/><rect x="239.0" y="836" width="3.2" height="33.8" fill="#f87171"/><rect x="244.0" y="819.9" width="3.2" height="16.1" fill="#4ade80"/><rect x="244.0" y="836" width="3.2" height="32.8" fill="#f87171"/><rect x="249.9" y="806.0" width="3.2" height="30.0" fill="#4ade80"/><rect x="249.9" y="836" width="3.2" height="23.9" fill="#f87171"/><rect x="254.9" y="812.9" width="3.2" height="23.1" fill="#4ade80"/><rect x="254.9" y="836" width="3.2" height="28.8" fill="#f87171"/><rect x="259.9" y="815.9" width="3.2" height="20.1" fill="#4ade80"/><rect x="259.9" y="836" width="3.2" height="24.9" fill="#f87171"/><rect x="265.8" y="818.9" width="3.2" height="17.1" fill="#4ade80"/><rect x="265.8" y="836" width="3.2" height="23.9" fill="#f87171"/><rect x="270.8" y="821.9" width="3.2" height="14.1" fill="#4ade80"/><rect x="270.8" y="836" width="3.2" height="13.9" fill="#f87171"/><rect x="276.8" y="826.9" width="3.2" height="9.1" fill="#4ade80"/><rect x="276.8" y="836" width="3.2" height="14.9" fill="#f87171"/><rect x="281.7" y="818.9" width="3.2" height="17.1" fill="#4ade80"/><rect x="281.7" y="836" width="3.2" height="9.9" fill="#f87171"/><rect x="287.1" y="822.9" width="3.2" height="13.1" fill="#4ade80"/><rect x="287.1" y="836" width="3.2" height="20.9" fill="#f87171"/><rect x="292.7" y="822.9" width="3.2" height="13.1" fill="#4ade80"/><rect x="292.7" y="836" width="3.2" height="13.9" fill="#f87171"/><rect x="298.0" y="832.8" width="3.2" height="3.2" fill="#4ade80"/><rect x="298.0" y="836" width="3.2" height="6.0" fill="#f87171"/><rect x="304.0" y="822.9" width="3.2" height="13.1" fill="#4ade80"/><rect x="304.0" y="836" width="3.2" height="16.9" fill="#f87171"/><rect x="309.0" y="823.9" width="3.2" height="12.1" fill="#4ade80"/><rect x="309.0" y="836" width="3.2" height="19.9" fill="#f87171"/><rect x="313.9" y="816.9" width="3.2" height="19.1" fill="#4ade80"/><rect x="313.9" y="836" width="3.2" height="15.9" fill="#f87171"/><rect x="319.9" y="816.9" width="3.2" height="19.1" fill="#4ade80"/><rect x="319.9" y="836" width="3.2" height="27.8" fill="#f87171"/><rect x="324.9" y="822.9" width="3.2" height="13.1" fill="#4ade80"/><rect x="324.9" y="836" width="3.2" height="16.9" fill="#f87171"/><rect x="330.8" y="807.0" width="3.2" height="29.0" fill="#4ade80"/><rect x="330.8" y="836" width="3.2" height="25.8" fill="#f87171"/><rect x="335.8" y="818.9" width="3.2" height="17.1" fill="#4ade80"/><rect x="335.8" y="836" width="3.2" height="15.9" fill="#f87171"/><rect x="340.8" y="826.9" width="3.2" height="9.1" fill="#4ade80"/><rect x="340.8" y="836" width="3.2" height="38.8" fill="#f87171"/><rect x="346.7" y="816.9" width="3.2" height="19.1" fill="#4ade80"/><rect x="346.7" y="836" width="3.2" height="23.9" fill="#f87171"/><rect x="351.7" y="818.9" width="3.2" height="17.1" fill="#4ade80"/><rect x="351.7" y="836" width="3.2" height="22.9" fill="#f87171"/><rect x="357.7" y="822.9" width="3.2" height="13.1" fill="#4ade80"/><rect x="357.7" y="836" width="3.2" height="23.9" fill="#f87171"/><rect x="363.1" y="802.0" width="3.2" height="34.0" fill="#4ade80"/><rect x="363.1" y="836" width="3.2" height="45.7" fill="#f87171"/><rect x="368.0" y="808.0" width="3.2" height="28.0" fill="#4ade80"/><rect x="368.0" y="836" width="3.2" height="25.8" fill="#f87171"/><rect x="374.0" y="832.8" width="3.2" height="3.2" fill="#4ade80"/><rect x="374.0" y="836" width="3.2" height="3.0" fill="#f87171"/><rect x="379.0" y="826.9" width="3.2" height="9.1" fill="#4ade80"/><rect x="379.0" y="836" width="3.2" height="7.0" fill="#f87171"/><rect x="384.9" y="819.9" width="3.2" height="16.1" fill="#4ade80"/><rect x="384.9" y="836" width="3.2" height="23.9" fill="#f87171"/><rect x="389.9" y="826.9" width="3.2" height="9.1" fill="#4ade80"/><rect x="389.9" y="836" width="3.2" height="20.9" fill="#f87171"/><rect x="394.9" y="821.9" width="3.2" height="14.1" fill="#4ade80"/><rect x="394.9" y="836" width="3.2" height="22.9" fill="#f87171"/><rect x="400.8" y="827.8" width="3.2" height="8.2" fill="#4ade80"/><rect x="400.8" y="836" width="3.2" height="17.9" fill="#f87171"/><rect x="405.8" y="826.9" width="3.2" height="9.1" fill="#4ade80"/><rect x="405.8" y="836" width="3.2" height="10.9" fill="#f87171"/><rect x="411.8" y="832.8" width="3.2" height="3.2" fill="#4ade80"/><rect x="411.8" y="836" width="3.2" height="9.9" fill="#f87171"/><rect x="416.7" y="829.8" width="3.2" height="6.2" fill="#4ade80"/><rect x="416.7" y="836" width="3.2" height="14.9" fill="#f87171"/><rect x="421.7" y="831.8" width="3.2" height="4.2" fill="#4ade80"/><rect x="421.7" y="836" width="3.2" height="9.9" fill="#f87171"/><rect x="427.7" y="823.9" width="3.2" height="12.1" fill="#4ade80"/><rect x="427.7" y="836" width="3.2" height="17.9" fill="#f87171"/><rect x="433.0" y="818.9" width="3.2" height="17.1" fill="#4ade80"/><rect x="433.0" y="836" width="3.2" height="18.9" fill="#f87171"/><rect x="438.9" y="826.9" width="3.2" height="9.1" fill="#4ade80"/><rect x="438.9" y="836" width="3.2" height="22.9" fill="#f87171"/><rect x="443.9" y="818.9" width="3.2" height="17.1" fill="#4ade80"/><rect x="443.9" y="836" width="3.2" height="16.9" fill="#f87171"/><rect x="448.9" y="817.9" width="3.2" height="18.1" fill="#4ade80"/><rect x="448.9" y="836" width="3.2" height="12.9" fill="#f87171"/><rect x="454.8" y="821.9" width="3.2" height="14.1" fill="#4ade80"/><rect x="454.8" y="836" width="3.2" height="30.8" fill="#f87171"/><rect x="459.8" y="812.9" width="3.2" height="23.1" fill="#4ade80"/><rect x="459.8" y="836" width="3.2" height="19.9" fill="#f87171"/><rect x="465.8" y="821.9" width="3.2" height="14.1" fill="#4ade80"/><rect x="465.8" y="836" width="3.2" height="27.8" fill="#f87171"/><rect x="470.7" y="811.0" width="3.2" height="25.0" fill="#4ade80"/><rect x="470.7" y="836" width="3.2" height="19.9" fill="#f87171"/><rect x="475.7" y="797.0" width="3.2" height="39.0" fill="#4ade80"/><rect x="475.7" y="836" width="3.2" height="35.8" fill="#f87171"/><rect x="481.7" y="807.0" width="3.2" height="29.0" fill="#4ade80"/><rect x="481.7" y="836" width="3.2" height="23.9" fill="#f87171"/><rect x="486.7" y="820.9" width="3.2" height="15.1" fill="#4ade80"/><rect x="486.7" y="836" width="3.2" height="24.9" fill="#f87171"/><rect x="492.6" y="817.9" width="3.2" height="18.1" fill="#4ade80"/><rect x="492.6" y="836" width="3.2" height="25.8" fill="#f87171"/><rect x="497.6" y="772.2" width="3.2" height="63.8" fill="#4ade80"/><rect x="497.6" y="836" width="3.2" height="41.7" fill="#f87171"/><rect x="502.6" y="809.0" width="3.2" height="27.0" fill="#4ade80"/><rect x="502.6" y="836" width="3.2" height="29.8" fill="#f87171"/><rect x="508.5" y="819.9" width="3.2" height="16.1" fill="#4ade80"/><rect x="508.5" y="836" width="3.2" height="37.8" fill="#f87171"/><rect x="513.5" y="810.0" width="3.2" height="26.0" fill="#4ade80"/><rect x="513.5" y="836" width="3.2" height="33.8" fill="#f87171"/><rect x="518.9" y="820.9" width="3.2" height="15.1" fill="#4ade80"/><rect x="518.9" y="836" width="3.2" height="29.8" fill="#f87171"/><rect x="524.4" y="811.9" width="3.2" height="24.1" fill="#4ade80"/><rect x="524.4" y="836" width="3.2" height="22.9" fill="#f87171"/><rect x="529.8" y="830.8" width="3.2" height="5.2" fill="#4ade80"/><rect x="529.8" y="836" width="3.2" height="6.0" fill="#f87171"/><rect x="535.8" y="831.8" width="3.2" height="4.2" fill="#4ade80"/><rect x="535.8" y="836" width="3.2" height="12.9" fill="#f87171"/><rect x="540.7" y="831.8" width="3.2" height="4.2" fill="#4ade80"/><rect x="540.7" y="836" width="3.2" height="11.9" fill="#f87171"/><rect x="545.7" y="821.9" width="3.2" height="14.1" fill="#4ade80"/><rect x="545.7" y="836" width="3.2" height="11.9" fill="#f87171"/><rect x="551.7" y="823.9" width="3.2" height="12.1" fill="#4ade80"/><rect x="551.7" y="836" width="3.2" height="13.9" fill="#f87171"/><rect x="556.6" y="822.9" width="3.2" height="13.1" fill="#4ade80"/><rect x="556.6" y="836" width="3.2" height="10.9" fill="#f87171"/><rect x="562.6" y="821.9" width="3.2" height="14.1" fill="#4ade80"/><rect x="562.6" y="836" width="3.2" height="11.9" fill="#f87171"/><rect x="567.6" y="810.0" width="3.2" height="26.0" fill="#4ade80"/><rect x="567.6" y="836" width="3.2" height="22.9" fill="#f87171"/><rect x="572.5" y="827.8" width="3.2" height="8.2" fill="#4ade80"/><rect x="572.5" y="836" width="3.2" height="18.9" fill="#f87171"/><rect x="578.5" y="812.9" width="3.2" height="23.1" fill="#4ade80"/><rect x="578.5" y="836" width="3.2" height="11.9" fill="#f87171"/><rect x="583.5" y="826.9" width="3.2" height="9.1" fill="#4ade80"/><rect x="583.5" y="836" width="3.2" height="19.9" fill="#f87171"/><rect x="589.4" y="809.0" width="3.2" height="27.0" fill="#4ade80"/><rect x="589.4" y="836" width="3.2" height="24.9" fill="#f87171"/><rect x="594.4" y="803.0" width="3.2" height="33.0" fill="#4ade80"/><rect x="594.4" y="836" width="3.2" height="30.8" fill="#f87171"/><rect x="599.8" y="805.0" width="3.2" height="31.0" fill="#4ade80"/><rect x="599.8" y="836" width="3.2" height="27.8" fill="#f87171"/><rect x="605.7" y="811.0" width="3.2" height="25.0" fill="#4ade80"/><rect x="605.7" y="836" width="3.2" height="31.8" fill="#f87171"/><rect x="610.7" y="791.1" width="3.2" height="44.9" fill="#4ade80"/><rect x="610.7" y="836" width="3.2" height="37.8" fill="#f87171"/><rect x="616.7" y="818.9" width="3.2" height="17.1" fill="#4ade80"/><rect x="616.7" y="836" width="3.2" height="30.8" fill="#f87171"/><rect x="621.8" y="808.0" width="3.2" height="28.0" fill="#4ade80"/><rect x="621.8" y="836" width="3.2" height="44.7" fill="#f87171"/><rect x="626.9" y="805.0" width="3.2" height="31.0" fill="#4ade80"/><rect x="626.9" y="836" width="3.2" height="19.9" fill="#f87171"/><rect x="632.9" y="817.9" width="3.2" height="18.1" fill="#4ade80"/><rect x="632.9" y="836" width="3.2" height="29.8" fill="#f87171"/><rect x="637.9" y="804.0" width="3.2" height="32.0" fill="#4ade80"/><rect x="637.9" y="836" width="3.2" height="22.9" fill="#f87171"/><rect x="643.8" y="806.0" width="3.2" height="30.0" fill="#4ade80"/><rect x="643.8" y="836" width="3.2" height="27.8" fill="#f87171"/><rect x="648.8" y="813.9" width="3.2" height="22.1" fill="#4ade80"/><rect x="648.8" y="836" width="3.2" height="20.9" fill="#f87171"/><rect x="653.8" y="812.9" width="3.2" height="23.1" fill="#4ade80"/><rect x="653.8" y="836" width="3.2" height="27.8" fill="#f87171"/><rect x="659.8" y="830.8" width="3.2" height="5.2" fill="#4ade80"/><rect x="659.8" y="836" width="3.2" height="17.9" fill="#f87171"/><rect x="664.7" y="823.9" width="3.2" height="12.1" fill="#4ade80"/><rect x="664.7" y="836" width="3.2" height="17.9" fill="#f87171"/><rect x="670.7" y="822.9" width="3.2" height="13.1" fill="#4ade80"/><rect x="670.7" y="836" width="3.2" height="12.9" fill="#f87171"/><rect x="675.7" y="822.9" width="3.2" height="13.1" fill="#4ade80"/><rect x="675.7" y="836" width="3.2" height="24.9" fill="#f87171"/><rect x="680.6" y="829.8" width="3.2" height="6.2" fill="#4ade80"/><rect x="680.6" y="836" width="3.2" height="13.9" fill="#f87171"/><rect x="686.6" y="822.9" width="3.2" height="13.1" fill="#4ade80"/><rect x="686.6" y="836" width="3.2" height="35.8" fill="#f87171"/><rect x="691.6" y="816.9" width="3.2" height="19.1" fill="#4ade80"/><rect x="691.6" y="836" width="3.2" height="22.9" fill="#f87171"/><rect x="697.5" y="804.0" width="3.2" height="32.0" fill="#4ade80"/><rect x="697.5" y="836" width="3.2" height="33.8" fill="#f87171"/><rect x="702.5" y="820.9" width="3.2" height="15.1" fill="#4ade80"/><rect x="702.5" y="836" width="3.2" height="30.8" fill="#f87171"/><rect x="707.9" y="811.9" width="3.2" height="24.1" fill="#4ade80"/><rect x="707.9" y="836" width="3.2" height="35.8" fill="#f87171"/><rect x="713.4" y="804.0" width="3.2" height="32.0" fill="#4ade80"/><rect x="713.4" y="836" width="3.2" height="20.9" fill="#f87171"/><rect x="718.8" y="817.9" width="3.2" height="18.1" fill="#4ade80"/><rect x="718.8" y="836" width="3.2" height="49.7" fill="#f87171"/><rect x="724.8" y="809.0" width="3.2" height="27.0" fill="#4ade80"/><rect x="724.8" y="836" width="3.2" height="38.8" fill="#f87171"/><rect x="729.7" y="810.0" width="3.2" height="26.0" fill="#4ade80"/><rect x="729.7" y="836" width="3.2" height="30.8" fill="#f87171"/><rect x="734.7" y="809.0" width="3.2" height="27.0" fill="#4ade80"/><rect x="734.7" y="836" width="3.2" height="42.7" fill="#f87171"/><rect x="740.7" y="833.8" width="3.2" height="2.2" fill="#4ade80"/><rect x="740.7" y="836" width="3.2" height="9.9" fill="#f87171"/><rect x="745.6" y="804.0" width="3.2" height="32.0" fill="#4ade80"/><rect x="745.6" y="836" width="3.2" height="29.8" fill="#f87171"/><rect x="751.6" y="831.8" width="3.2" height="4.2" fill="#4ade80"/><rect x="751.6" y="836" width="3.2" height="2.0" fill="#f87171"/><rect x="756.6" y="831.8" width="3.2" height="4.2" fill="#4ade80"/><rect x="756.6" y="836" width="3.2" height="17.9" fill="#f87171"/><rect x="761.5" y="811.9" width="3.2" height="24.1" fill="#4ade80"/><rect x="761.5" y="836" width="3.2" height="20.9" fill="#f87171"/><rect x="767.5" y="820.9" width="3.2" height="15.1" fill="#4ade80"/><rect x="767.5" y="836" width="3.2" height="20.9" fill="#f87171"/><rect x="772.9" y="831.8" width="3.2" height="4.2" fill="#4ade80"/><rect x="772.9" y="836" width="3.2" height="4.0" fill="#f87171"/><rect x="778.8" y="822.9" width="3.2" height="13.1" fill="#4ade80"/><rect x="778.8" y="836" width="3.2" height="27.8" fill="#f87171"/><rect x="783.8" y="805.0" width="3.2" height="31.0" fill="#4ade80"/><rect x="783.8" y="836" width="3.2" height="24.9" fill="#f87171"/><rect x="788.8" y="827.8" width="3.2" height="8.2" fill="#4ade80"/><rect x="788.8" y="836" width="3.2" height="18.9" fill="#f87171"/><rect x="794.7" y="823.9" width="3.2" height="12.1" fill="#4ade80"/><rect x="794.7" y="836" width="3.2" height="14.9" fill="#f87171"/><rect x="800.0" y="818.9" width="3.2" height="17.1" fill="#4ade80"/><rect x="800.0" y="836" width="3.2" height="15.9" fill="#f87171"/><rect x="806.0" y="826.9" width="3.2" height="9.1" fill="#4ade80"/><rect x="806.0" y="836" width="3.2" height="19.9" fill="#f87171"/><rect x="810.9" y="829.8" width="3.2" height="6.2" fill="#4ade80"/><rect x="810.9" y="836" width="3.2" height="15.9" fill="#f87171"/><rect x="815.9" y="815.9" width="3.2" height="20.1" fill="#4ade80"/><rect x="815.9" y="836" width="3.2" height="26.8" fill="#f87171"/><rect x="821.9" y="824.9" width="3.2" height="11.1" fill="#4ade80"/><rect x="821.9" y="836" width="3.2" height="22.9" fill="#f87171"/><rect x="826.8" y="813.9" width="3.2" height="22.1" fill="#4ade80"/><rect x="826.8" y="836" width="3.2" height="22.9" fill="#f87171"/><rect x="832.8" y="802.0" width="3.2" height="34.0" fill="#4ade80"/><rect x="832.8" y="836" width="3.2" height="25.8" fill="#f87171"/><rect x="837.8" y="811.9" width="3.2" height="24.1" fill="#4ade80"/><rect x="837.8" y="836" width="3.2" height="47.7" fill="#f87171"/><rect x="842.7" y="789.1" width="3.2" height="46.9" fill="#4ade80"/><rect x="842.7" y="836" width="3.2" height="33.8" fill="#f87171"/><rect x="848.7" y="782.1" width="3.2" height="53.9" fill="#4ade80"/><rect x="848.7" y="836" width="3.2" height="43.7" fill="#f87171"/><rect x="853.7" y="792.1" width="3.2" height="43.9" fill="#4ade80"/><rect x="853.7" y="836" width="3.2" height="32.8" fill="#f87171"/><rect x="859.6" y="809.0" width="3.2" height="27.0" fill="#4ade80"/><rect x="859.6" y="836" width="3.2" height="44.7" fill="#f87171"/><rect x="864.6" y="797.0" width="3.2" height="39.0" fill="#4ade80"/><rect x="864.6" y="836" width="3.2" height="18.9" fill="#f87171"/><rect x="870.0" y="803.0" width="3.2" height="33.0" fill="#4ade80"/><rect x="870.0" y="836" width="3.2" height="30.8" fill="#f87171"/><rect x="875.5" y="804.0" width="3.2" height="32.0" fill="#4ade80"/><rect x="875.5" y="836" width="3.2" height="39.8" fill="#f87171"/><rect x="880.9" y="819.9" width="3.2" height="16.1" fill="#4ade80"/><rect x="880.9" y="836" width="3.2" height="50.7" fill="#f87171"/><rect x="886.9" y="807.0" width="3.2" height="29.0" fill="#4ade80"/><rect x="886.9" y="836" width="3.2" height="26.8" fill="#f87171"/><rect x="891.8" y="809.0" width="3.2" height="27.0" fill="#4ade80"/><rect x="891.8" y="836" width="3.2" height="26.8" fill="#f87171"/><rect x="896.8" y="810.0" width="3.2" height="26.0" fill="#4ade80"/><rect x="896.8" y="836" width="3.2" height="17.9" fill="#f87171"/><rect x="902.8" y="820.9" width="3.2" height="15.1" fill="#4ade80"/><rect x="902.8" y="836" width="3.2" height="25.8" fill="#f87171"/><rect x="907.7" y="824.9" width="3.2" height="11.1" fill="#4ade80"/><rect x="907.7" y="836" width="3.2" height="20.9" fill="#f87171"/><rect x="913.7" y="831.8" width="3.2" height="4.2" fill="#4ade80"/><rect x="913.7" y="836" width="3.2" height="15.9" fill="#f87171"/><rect x="918.7" y="821.9" width="3.2" height="14.1" fill="#4ade80"/><rect x="918.7" y="836" width="3.2" height="15.9" fill="#f87171"/><rect x="923.6" y="829.8" width="3.2" height="6.2" fill="#4ade80"/><rect x="923.6" y="836" width="3.2" height="10.9" fill="#f87171"/><rect x="929.6" y="825.9" width="3.2" height="10.1" fill="#4ade80"/><rect x="929.6" y="836" width="3.2" height="19.9" fill="#f87171"/><rect x="934.6" y="820.9" width="3.2" height="15.1" fill="#4ade80"/><rect x="934.6" y="836" width="3.2" height="10.9" fill="#f87171"/><rect x="940.5" y="830.8" width="3.2" height="5.2" fill="#4ade80"/><rect x="940.5" y="836" width="3.2" height="14.9" fill="#f87171"/><rect x="945.5" y="824.9" width="3.2" height="11.1" fill="#4ade80"/><rect x="945.5" y="836" width="3.2" height="13.9" fill="#f87171"/><text x="67.9" y="708.0" textLength="84.9" lengthAdjust="spacingAndGlyphs" font-family='"Liberation Sans", sans-serif' font-weight="700" font-size="23.2" fill="#7c7c7c" stroke="#080808" stroke-width="0.55">Mar 24</text><text x="67.9" y="939.8" textLength="84.9" lengthAdjust="spacingAndGlyphs" font-family='"Liberation Sans", sans-serif' font-weight="700" font-size="23.2" fill="#7c7c7c" stroke="#080808" stroke-width="0.55">Mar 24</text><text x="326.9" y="708.0" textLength="84.9" lengthAdjust="spacingAndGlyphs" font-family='"Liberation Sans", sans-serif' font-weight="700" font-size="23.2" fill="#7c7c7c" stroke="#080808" stroke-width="0.55">Mar 26</text><text x="326.9" y="939.8" textLength="84.9" lengthAdjust="spacingAndGlyphs" font-family='"Liberation Sans", sans-serif' font-weight="700" font-size="23.2" fill="#7c7c7c" stroke="#080808" stroke-width="0.55">Mar 26</text><text x="585.9" y="708.0" textLength="84.9" lengthAdjust="spacingAndGlyphs" font-family='"Liberation Sans", sans-serif' font-weight="700" font-size="23.2" fill="#7c7c7c" stroke="#080808" stroke-width="0.55">Mar 28</text><text x="585.9" y="939.8" textLength="84.9" lengthAdjust="spacingAndGlyphs" font-family='"Liberation Sans", sans-serif' font-weight="700" font-size="23.2" fill="#7c7c7c" stroke="#080808" stroke-width="0.55">Mar 28</text><text x="845.3" y="708.0" textLength="86.2" lengthAdjust="spacingAndGlyphs" font-family='"Liberation Sans", sans-serif' font-weight="700" font-size="23.2" fill="#7c7c7c" stroke="#080808" stroke-width="0.55">Mar 30</text><text x="845.3" y="939.8" textLength="86.2" lengthAdjust="spacingAndGlyphs" font-family='"Liberation Sans", sans-serif' font-weight="700" font-size="23.2" fill="#7c7c7c" stroke="#080808" stroke-width="0.55">Mar 30</text><text x="421.1" y="83.4" textLength="248.3" lengthAdjust="spacingAndGlyphs" font-family='"Liberation Sans", sans-serif' font-weight="700" font-size="27.2" fill="#f2f2f2" stroke="#080808" stroke-width="0.6">Armadyl crossbow</text><text x="82.4" y="171.6" textLength="85.4" lengthAdjust="spacingAndGlyphs" font-family='"Liberation Sans", sans-serif' font-size="27" fill="#f2f2f2">7 Days</text><text x="332.6" y="171.9" textLength="94" lengthAdjust="spacingAndGlyphs" font-family='"Liberation Sans", sans-serif' font-size="27" fill="#a6a6a6">Signals</text><text x="450.2" y="169.1" textLength="11.6" lengthAdjust="spacingAndGlyphs" font-family='"Liberation Sans", sans-serif' font-size="20" fill="#b5b5b5">2</text></svg>
</body></html>
